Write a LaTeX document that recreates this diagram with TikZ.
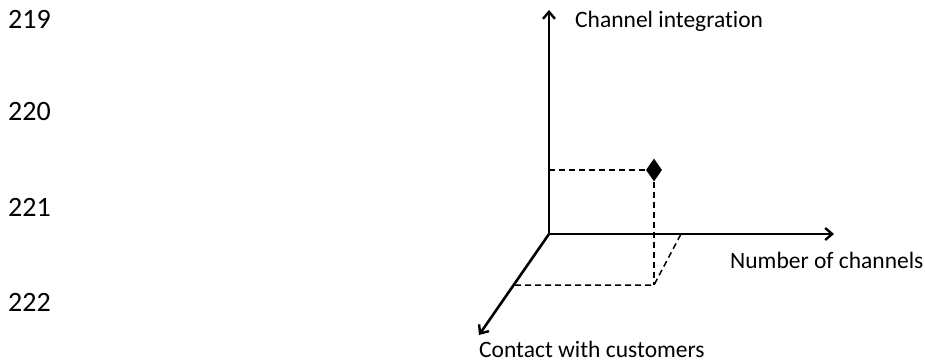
\documentclass[tikz,border=0pt]{standalone}
\usepackage{fontspec}
\setmainfont[Ligatures={NoCommon}]{Carlito}
\usetikzlibrary{arrows.meta,shapes.geometric}
\begin{document}
\begin{tikzpicture}[x=1pt,y=-1pt,
  axis/.style={line width=2.6pt,-{Straight Barb[length=7pt,width=12pt,line width=2.4pt]}},
  guide/.style={line width=1.5pt,dash pattern=on 6pt off 4pt},
  lbl/.style={font=\fontsize{23.5}{26}\selectfont,inner sep=0pt,anchor=base west},
  lineno/.style={font=\fontsize{28}{30}\selectfont,inner sep=0pt,anchor=base west}]
\useasboundingbox (0,0) rectangle (925,362);

% line numbers in the margin
\node[lineno] (n219) at (8,28) {219};
\node[lineno] (n220) at (8,120) {220};
\node[lineno] (n221) at (8,216) {221};
\node[lineno] (n222) at (8,311) {222};

% axes
\coordinate (O) at (549,234);
\coordinate (ytip) at (549,10);
\coordinate (xtip) at (834,234);
\coordinate (ztip) at (479,335);
\draw[axis] (O) -- (ytip);
\draw[axis] (O) -- (xtip);
\draw[axis] (O) -- (ztip);

% the plotted point and its projections
\node[diamond,fill=black,inner sep=0pt,minimum width=16pt,minimum height=23pt] (pt) at (654,170) {};
\coordinate (onY) at (549,170);
\coordinate (foot) at (654,285);
\coordinate (onZ) at (515,285);
\coordinate (onX) at (681,234);
\draw[guide] (onY) -- (pt.west);
\draw[guide] (pt.south) -- (foot);
\draw[guide] (onZ) -- (foot) -- (onX);

% axis labels
\node[lbl] (ylab) at (575,27) {Channel integration};
\node[lbl] (xlab) at (730,268) {Number of channels};
\node[lbl] (zlab) at (479,357) {Contact with customers};
\end{tikzpicture}
\end{document}
